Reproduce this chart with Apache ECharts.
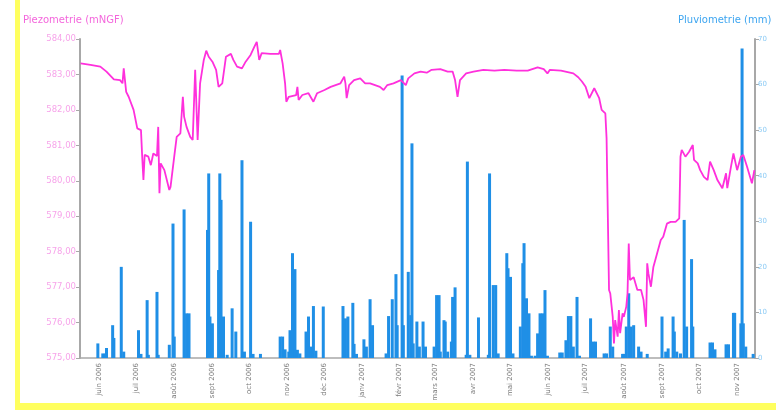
<!DOCTYPE html>
<html>
<head>
<meta charset="utf-8">
<script src="https://cdn.jsdelivr.net/npm/echarts@6/dist/echarts.min.js"></script>
<style>html,body{margin:0;padding:0;background:#fff;}#c{width:776px;height:410px;}</style>
</head>
<body>
<div id="c"></div>
<script>
// ---- DATA ----
const firstDay = '2006-06-01';
const dayCount = 548; // 1 June 2006 .. 30 Nov 2007
const monthNames = ['janv','févr','mars','avr','mai','juin','juil','août','sept','oct','nov','déc'];
const leftTicks = [575,576,577,578,579,580,581,582,583,584];
const rightTicks = [0,10,20,30,40,50,60,70];

// Piezometrie (mNGF) : [date, value]
const piezometrie = [
['2006-06-01',583.31],['2006-06-09',583.27],['2006-06-17',583.22],['2006-06-22',583.08],['2006-06-28',582.86],
['2006-07-03',582.84],['2006-07-05',582.75],['2006-07-06',583.17],['2006-07-08',582.51],['2006-07-10',582.37],
['2006-07-14',582.00],['2006-07-17',581.48],['2006-07-20',581.43],['2006-07-21',580.68],['2006-07-22',580.02],
['2006-07-23',580.73],['2006-07-26',580.68],['2006-07-28',580.44],['2006-07-30',580.77],['2006-08-02',580.70],
['2006-08-03',581.52],['2006-08-04',579.65],['2006-08-05',580.49],['2006-08-08',580.30],['2006-08-12',579.74],
['2006-08-13',579.83],['2006-08-16',580.68],['2006-08-18',581.24],['2006-08-21',581.34],['2006-08-23',582.37],
['2006-08-24',581.81],['2006-08-26',581.52],['2006-08-29',581.24],['2006-08-31',581.15],['2006-09-02',583.13],
['2006-09-04',581.15],['2006-09-06',582.75],['2006-09-09',583.41],['2006-09-11',583.67],['2006-09-13',583.50],
['2006-09-16',583.36],['2006-09-19',583.13],['2006-09-21',582.65],['2006-09-24',582.75],['2006-09-27',583.50],
['2006-10-01',583.58],['2006-10-03',583.41],['2006-10-06',583.22],['2006-10-10',583.17],['2006-10-13',583.36],
['2006-10-17',583.55],['2006-10-20',583.78],['2006-10-22',583.92],['2006-10-24',583.41],['2006-10-26',583.60],
['2006-11-02',583.58],['2006-11-09',583.58],['2006-11-10',583.69],['2006-11-12',583.31],['2006-11-13',583.36],
['2006-11-14',582.75],['2006-11-15',582.23],['2006-11-17',582.37],['2006-11-23',582.42],['2006-11-24',582.65],
['2006-11-25',582.28],['2006-11-28',582.42],['2006-12-03',582.47],['2006-12-07',582.23],['2006-12-10',582.47],
['2006-12-16',582.56],['2006-12-21',582.65],['2006-12-29',582.75],['2007-01-01',582.94],['2007-01-02',582.75],
['2007-01-03',582.33],['2007-01-05',582.70],['2007-01-09',582.84],['2007-01-14',582.89],['2007-01-18',582.75],
['2007-01-22',582.75],['2007-01-30',582.65],['2007-02-02',582.56],['2007-02-05',582.70],['2007-02-10',582.75],
['2007-02-16',582.84],['2007-02-20',582.70],['2007-02-22',582.89],['2007-02-27',583.03],['2007-03-04',583.08],
['2007-03-09',583.05],['2007-03-13',583.13],['2007-03-20',583.15],['2007-03-26',583.08],['2007-03-30',583.08],
['2007-04-01',582.84],['2007-04-03',582.37],['2007-04-05',582.84],['2007-04-10',583.03],['2007-04-16',583.08],
['2007-04-24',583.13],['2007-05-03',583.11],['2007-05-11',583.13],['2007-05-21',583.11],['2007-05-30',583.11],
['2007-06-07',583.20],['2007-06-12',583.15],['2007-06-15',583.03],['2007-06-17',583.13],['2007-06-26',583.11],
['2007-07-06',583.03],['2007-07-10',582.92],['2007-07-13',582.80],['2007-07-16',582.65],['2007-07-19',582.33],
['2007-07-23',582.61],['2007-07-27',582.33],['2007-07-29',582.00],['2007-08-01',581.90],['2007-08-02',581.20],
['2007-08-04',576.92],['2007-08-05',576.82],['2007-08-07',576.16],['2007-08-08',575.41],['2007-08-09',576.07],
['2007-08-11',575.60],['2007-08-12',576.35],['2007-08-13',575.70],['2007-08-15',576.26],['2007-08-16',576.16],
['2007-08-18',576.45],['2007-08-19',576.82],['2007-08-20',578.23],['2007-08-21',577.20],['2007-08-24',577.28],
['2007-08-27',576.92],['2007-08-30',576.92],['2007-09-01',576.64],['2007-09-03',575.88],['2007-09-04',577.67],
['2007-09-05',577.38],['2007-09-07',577.01],['2007-09-09',577.57],['2007-09-12',577.95],['2007-09-15',578.33],
['2007-09-17',578.42],['2007-09-20',578.79],['2007-09-23',578.84],['2007-09-27',578.84],['2007-09-30',578.94],
['2007-10-01',580.68],['2007-10-02',580.87],['2007-10-05',580.68],['2007-10-08',580.82],['2007-10-11',581.01],
['2007-10-12',580.59],['2007-10-15',580.49],['2007-10-17',580.30],['2007-10-20',580.11],['2007-10-23',580.02],
['2007-10-25',580.54],['2007-10-28',580.30],['2007-10-31',580.02],['2007-11-04',579.79],['2007-11-07',580.21],
['2007-11-08',579.79],['2007-11-11',580.40],['2007-11-13',580.77],['2007-11-16',580.30],['2007-11-19',580.68],
['2007-11-21',580.73],['2007-11-24',580.40],['2007-11-28',579.93],['2007-11-30',580.30]
];

// Pluviometrie (mm) : [date, value]
const pluviometrie = [
['2006-06-15',3.2],['2006-06-19',1.0],['2006-06-21',1.0],['2006-06-22',2.2],['2006-06-27',7.2],['2006-06-28',4.4],
['2006-07-04',20.0],['2006-07-06',1.4],['2006-07-18',6.1],['2006-07-20',0.9],['2006-07-25',12.7],['2006-07-26',0.7],
['2006-08-02',14.5],['2006-08-03',0.7],['2006-08-12',2.9],['2006-08-15',29.5],['2006-08-16',4.7],['2006-08-24',32.6],
['2006-08-26',9.8],['2006-08-28',9.8],['2006-09-12',28.1],['2006-09-13',40.5],['2006-09-14',9.1],['2006-09-16',7.6],
['2006-09-21',19.3],['2006-09-22',40.5],['2006-09-23',34.7],['2006-09-25',9.1],['2006-09-28',0.7],['2006-10-02',10.9],
['2006-10-05',5.8],['2006-10-10',43.4],['2006-10-12',1.4],['2006-10-17',29.9],['2006-10-19',0.9],['2006-10-25',0.9],
['2006-11-10',4.7],['2006-11-12',4.7],['2006-11-14',1.9],['2006-11-17',1.4],['2006-11-18',6.1],['2006-11-20',23.0],
['2006-11-22',19.5],['2006-11-24',1.8],['2006-11-26',1.0],['2006-12-01',5.8],['2006-12-03',9.1],['2006-12-05',2.5],
['2006-12-07',11.4],['2006-12-09',1.6],['2006-12-15',11.3],['2006-12-31',11.4],['2007-01-02',8.7],['2007-01-04',9.1],
['2007-01-08',12.1],['2007-01-09',3.1],['2007-01-11',0.9],['2007-01-17',4.1],['2007-01-19',2.5],['2007-01-22',12.9],
['2007-01-24',7.2],['2007-02-04',1.0],['2007-02-06',9.2],['2007-02-09',12.9],['2007-02-12',18.4],['2007-02-13',7.2],
['2007-02-17',62.0],['2007-02-18',7.2],['2007-02-22',18.9],['2007-02-24',9.4],['2007-02-25',47.1],['2007-02-26',3.2],
['2007-03-01',8.0],['2007-03-03',2.5],['2007-03-06',8.0],['2007-03-08',2.5],['2007-03-15',2.5],['2007-03-17',13.8],
['2007-03-19',13.8],['2007-03-20',1.4],['2007-03-23',8.3],['2007-03-24',8.0],['2007-03-26',1.4],['2007-03-29',3.6],
['2007-03-30',13.4],['2007-04-01',15.5],['2007-04-10',0.7],['2007-04-11',43.1],['2007-04-13',0.7],['2007-04-20',8.9],
['2007-04-28',0.7],['2007-04-29',40.5],['2007-05-02',16.0],['2007-05-04',16.0],['2007-05-06',1.0],['2007-05-13',23.0],
['2007-05-14',19.7],['2007-05-16',17.8],['2007-05-18',1.0],['2007-05-24',6.9],['2007-05-26',20.8],['2007-05-27',25.2],
['2007-05-29',13.1],['2007-05-31',9.8],['2007-06-02',0.5],['2007-06-05',0.5],['2007-06-07',5.4],['2007-06-09',9.8],
['2007-06-11',9.8],['2007-06-13',14.9],['2007-06-15',0.5],['2007-06-25',1.2],['2007-06-27',1.2],['2007-06-30',3.9],
['2007-07-02',9.2],['2007-07-04',9.2],['2007-07-06',2.5],['2007-07-09',13.4],['2007-07-11',0.5],['2007-07-20',8.7],
['2007-07-22',3.6],['2007-07-24',3.6],['2007-07-31',1.0],['2007-08-02',1.0],['2007-08-05',6.9],['2007-08-07',2.5],
['2007-08-15',0.9],['2007-08-16',0.9],['2007-08-18',6.9],['2007-08-20',14.2],['2007-08-22',6.9],['2007-08-24',7.2],
['2007-08-28',2.5],['2007-08-30',1.4],['2007-09-04',0.9],['2007-09-16',9.1],['2007-09-19',1.4],['2007-09-21',2.1],
['2007-09-25',9.1],['2007-09-26',5.8],['2007-09-28',1.4],['2007-10-01',1.0],['2007-10-04',30.3],['2007-10-06',6.9],
['2007-10-10',21.7],['2007-10-11',6.9],['2007-10-25',3.4],['2007-10-27',3.4],['2007-10-29',1.9],['2007-11-07',3.0],
['2007-11-09',3.0],['2007-11-13',9.9],['2007-11-14',9.9],['2007-11-19',7.6],['2007-11-20',67.9],['2007-11-21',7.6],
['2007-11-23',2.5],['2007-11-29',0.9]
];

// ---- BUILD ----
const DAY = 86400000;
const t0 = Date.parse(firstDay + 'T00:00:00Z');
const categories = [];
for (let i = 0; i < dayCount; i++) categories.push(new Date(t0 + i * DAY).toISOString().slice(0, 10));
const idx = d => Math.round((Date.parse(d + 'T00:00:00Z') - t0) / DAY);
const lineData = new Array(dayCount).fill(null);
piezometrie.forEach(([d, v]) => { lineData[idx(d)] = v; });
const barData = new Array(dayCount).fill(null);
pluviometrie.forEach(([d, v]) => { barData[idx(d)] = v; });

function parts(s){ return s.split('-').map(Number); }
function daysIn(y, m){ return new Date(Date.UTC(y, m, 0)).getUTCDate(); }

const chart = echarts.init(document.getElementById('c'), null, {renderer: 'canvas'});
chart.setOption({
  animation: false,
  backgroundColor: '#ffffff',
  graphic: [
    {type: 'rect', left: 15, top: 0, shape: {width: 5, height: 410}, style: {fill: '#ffff5e'}, z: 100},
    {type: 'rect', left: 15, top: 403, shape: {width: 761, height: 7}, style: {fill: '#ffff5e'}, z: 100}
  ],
  title: [
    {text: 'Piezometrie (mNGF)', left: 23, top: 15, padding: 0, textStyle: {fontFamily: 'DejaVu Sans', fontSize: 10, fontWeight: 'normal', color: '#f466dc'}},
    {text: 'Pluviometrie (mm)', left: 678, top: 15, padding: 0, textStyle: {fontFamily: 'DejaVu Sans', fontSize: 10, fontWeight: 'normal', color: '#3da5f0'}}
  ],
  grid: {left: 80, right: 21, top: 39, bottom: 52, containLabel: false},
  xAxis: {
    type: 'category',
    data: categories,
    boundaryGap: true,
    axisLine: {lineStyle: {color: '#a8a8a8', width: 1.5}},
    axisTick: {
      length: 3, lineStyle: {color: '#a8a8a8'},
      interval: (i, v) => parts(v)[2] === 1
    },
    axisLabel: {
      rotate: 90, fontFamily: 'DejaVu Sans', fontSize: 7, color: '#7a7a7a', margin: 5,
      interval: (i, v) => { const p = parts(v); return p[2] === Math.floor(daysIn(p[0], p[1]) / 2) + 1; },
      formatter: v => { const p = parts(v); return monthNames[p[1] - 1] + ' ' + p[0]; }
    },
    splitLine: {show: false}
  },
  yAxis: [
    {
      type: 'value', min: leftTicks[0], max: leftTicks[leftTicks.length - 1], interval: 1, position: 'left',
      axisLine: {show: true, lineStyle: {color: '#a8a8a8', width: 2}},
      axisTick: {show: true, length: 4, lineStyle: {color: '#a8a8a8'}},
      axisLabel: {fontFamily: 'DejaVu Sans', fontSize: 8.5, color: '#f7a4ea', margin: 4,
        formatter: v => v.toFixed(2).replace('.', ',')},
      splitLine: {show: false}
    },
    {
      type: 'value', min: rightTicks[0], max: rightTicks[rightTicks.length - 1], interval: 10, position: 'right',
      axisLine: {show: true, lineStyle: {color: '#a8a8a8', width: 2}},
      axisTick: {show: true, length: 4, lineStyle: {color: '#a8a8a8'}},
      axisLabel: {fontFamily: 'DejaVu Sans', fontSize: 7, color: '#8ccbf5', margin: 3},
      splitLine: {show: false}
    }
  ],
  series: [
    {
      name: 'Pluviometrie', type: 'bar', yAxisIndex: 1, data: barData,
      barWidth: 3, itemStyle: {color: '#1f8fe6'}, z: 2
    },
    {
      name: 'Piezometrie', type: 'line', yAxisIndex: 0, data: lineData,
      connectNulls: true, showSymbol: false, symbol: 'none',
      lineStyle: {color: '#ff30dc', width: 1.8}, z: 3
    }
  ]
});
</script>
</body>
</html>
